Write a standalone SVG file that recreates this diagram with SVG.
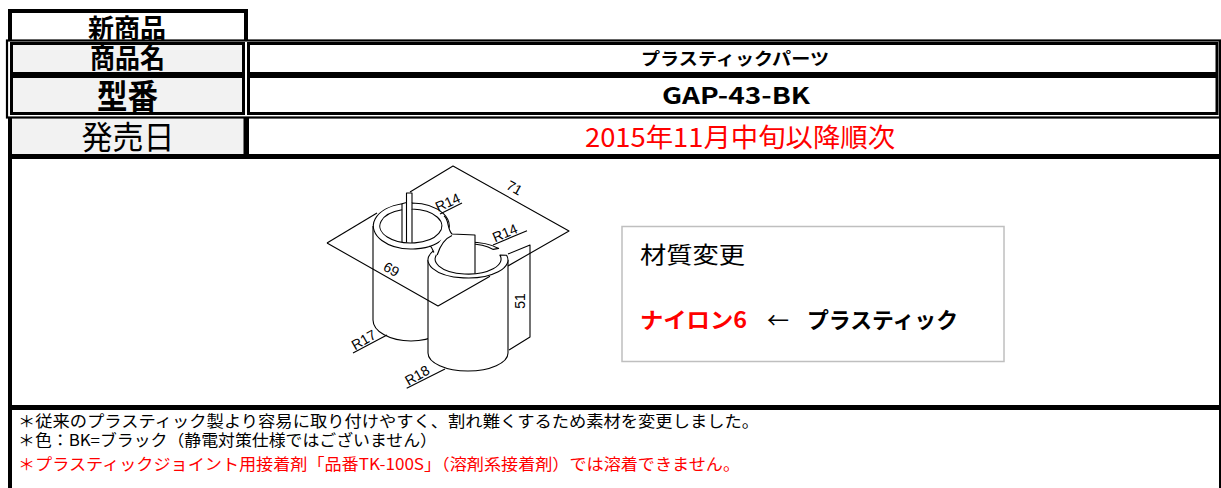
<svg xmlns="http://www.w3.org/2000/svg" width="1221" height="488" viewBox="0 0 1221 488">
<style>
.jp{font-family:"Noto Sans CJK JP","Noto Sans",sans-serif;fill:#000}
.b{font-weight:bold}
.red{fill:#FF0000}
.cad{font-family:"Liberation Sans Narrow","Liberation Sans",sans-serif;font-size:14px;fill:#000}
.ln{fill:none;stroke:#000;stroke-width:1.1;stroke-linejoin:round}
.wl{fill:#fff;stroke:#000;stroke-width:1.1;stroke-linejoin:round}
.wf{fill:#fff;stroke:none}
.grey{fill:#F2F2F2}
</style>
<rect x="0" y="0" width="1221" height="488" fill="#fff"/>

<g id="cell-new-product">
  <text class="jp b" x="127" y="38" font-size="26" text-anchor="middle" textLength="78" lengthAdjust="spacingAndGlyphs">新商品</text>
  <path d="M10,41 V11 H246 V41" fill="none" stroke="#000" stroke-width="4"/>
</g>

<g id="frame-rows-2-3">
  <rect x="7" y="40.5" width="1213" height="77" fill="none" stroke="#000" stroke-width="2.2"/>
</g>

<g id="cell-product-name-label">
  <rect x="11.5" y="43.5" width="232" height="30" class="grey" stroke="#000" stroke-width="3"/>
  <text class="jp b" x="127.5" y="68" font-size="27" text-anchor="middle" textLength="75" lengthAdjust="spacingAndGlyphs">商品名</text>
</g>
<g id="cell-product-name-value">
  <rect x="248.5" y="43.5" width="968.5" height="30" fill="#fff" stroke="#000" stroke-width="3"/>
  <text class="jp b" x="735" y="65" font-size="17" text-anchor="middle" textLength="188" lengthAdjust="spacingAndGlyphs">プラスティックパーツ</text>
</g>

<g id="cell-model-label">
  <rect x="11.5" y="76.5" width="232" height="37" class="grey" stroke="#000" stroke-width="3"/>
  <text class="jp b" x="127.5" y="109" font-size="34" text-anchor="middle" textLength="61" lengthAdjust="spacingAndGlyphs">型番</text>
</g>
<g id="cell-model-value">
  <rect x="248.5" y="76.5" width="968.5" height="37" fill="#fff" stroke="#000" stroke-width="3"/>
  <text class="jp b" x="736" y="104" font-size="23" text-anchor="middle" textLength="148" lengthAdjust="spacingAndGlyphs">GAP-43-BK</text>
</g>

<g id="cell-release-label">
  <rect x="12" y="119" width="232" height="35" class="grey"/>
  <text class="jp" x="128" y="149" font-size="32" text-anchor="middle" textLength="93" lengthAdjust="spacingAndGlyphs">発売日</text>
</g>
<g id="cell-release-value">
  <text class="jp red" x="740" y="147" font-size="26" text-anchor="middle" textLength="310" lengthAdjust="spacingAndGlyphs">2015年11月中旬以降順次</text>
</g>

<g id="frame-lower">
  <rect x="8" y="117" width="4" height="371" fill="#000"/>
  <rect x="1219" y="117" width="2" height="371" fill="#000"/>
  <rect x="243.5" y="118" width="5.5" height="38" fill="#000"/>
  <rect x="8" y="154" width="1213" height="5" fill="#000"/>
  <rect x="8" y="405" width="1213" height="5" fill="#000"/>
</g>

<g id="part-drawing">
  <path class="wf" d="M373,226 V320 A38,21 0 0 0 449,320 V226 Z"/>
  <path class="ln" d="M373,226 V320 A38,21 0 0 0 449,320"/>
  <ellipse class="wf" cx="411" cy="226" rx="31" ry="17"/>
  <path class="wl" d="M412,203 A38,23 0 1 1 402,203.7 L402,209.7 A31,17 0 1 0 412,209 Z"/>
  <path class="ln" d="M402,203.7 L406.5,202.5 V193 H412 V203"/>
  <path class="ln" d="M402,209.7 V242 M406.5,202.5 V242.6 M412,209 V242.8"/>
  <path class="wf" d="M428,260 V353 A40,18 0 0 0 508,353 V260 A40,18 0 0 0 428,260 Z"/>
  <path class="ln" d="M428,260 V353 A40,18 0 0 0 508,353 V260"/>
  <ellipse class="wf" cx="468" cy="259" rx="33" ry="15"/>
  <path class="wl" d="M506.6,255.3 A40,18 0 1 1 498.6,248.4 L493.3,249.4 A33,15 0 1 0 499.9,255.1 Z"/>
  <path class="wf" d="M433,251 L441,240 L445,218 L452,234 L475,235 L475,250 L455,248.5 L443,253 L437.5,256 Z"/>
  <path class="ln" d="M444,216 C449,219 447,229 452,234 L475,235 V273.7"/>
  <path class="ln" d="M437.2,255 C440,246 445,238.5 452,235.5"/>
  <path class="ln" d="M429.5,246 C433,247 432,250.5 434,252.5"/>
</g>

<g id="dimensions">
  <path class="ln" d="M327,243 L377,213"/>
  <path class="ln" d="M410,192 L453,166 L569,231 L508,265.9"/>
  <path class="ln" d="M490,276.2 L438,306 L327,243"/>
  <path class="ln" d="M508,254 L530,245 V337 L509,350"/>
  <path class="ln" d="M440,214 L462,203"/>
  <path class="ln" d="M493,245 L527,230.7"/>
  <path class="ln" d="M353,353 L387,335"/>
  <path class="ln" d="M406.7,388.3 L445,369"/>
  <text class="cad" x="512" y="192" text-anchor="middle" transform="rotate(29.5 512 192)">71</text>
  <text class="cad" x="389" y="273.5" text-anchor="middle" transform="rotate(29.5 389 273.5)">69</text>
  <text class="cad" x="438" y="212" transform="rotate(-24 438 212)">R14</text>
  <text class="cad" x="495" y="242.5" transform="rotate(-23 495 242.5)">R14</text>
  <text class="cad" x="355" y="350.5" transform="rotate(-30 355 350.5)">R17</text>
  <text class="cad" x="408.5" y="386" transform="rotate(-30 408.5 386)">R18</text>
  <text class="cad" x="525" y="301" text-anchor="middle" transform="rotate(-90 525 301)">51</text>
</g>

<g id="material-box">
  <rect x="622" y="226.5" width="382" height="135" fill="#fff" stroke="#BFBFBF" stroke-width="1.5"/>
  <text class="jp" x="640" y="263" font-size="23" textLength="105" lengthAdjust="spacingAndGlyphs">材質変更</text>
  <text class="jp b red" x="640" y="328" font-size="22" textLength="107" lengthAdjust="spacingAndGlyphs">ナイロン6</text>
  <text class="jp" x="767" y="328" font-size="22">←</text>
  <text class="jp b" x="807" y="328" font-size="22" textLength="151" lengthAdjust="spacingAndGlyphs">プラスティック</text>
</g>

<g id="notes">
  <text class="jp" x="18" y="427" font-size="16" textLength="741" lengthAdjust="spacingAndGlyphs">＊従来のプラスティック製より容易に取り付けやすく、割れ難くするため素材を変更しました。</text>
  <text class="jp" x="18" y="446" font-size="16" textLength="419" lengthAdjust="spacingAndGlyphs">＊色：BK=ブラック（静電対策仕様ではございません）</text>
  <text class="jp red" x="18" y="470" font-size="16" textLength="722" lengthAdjust="spacingAndGlyphs">＊プラスティックジョイント用接着剤「品番TK-100S」（溶剤系接着剤）では溶着できません。</text>
</g>
</svg>
